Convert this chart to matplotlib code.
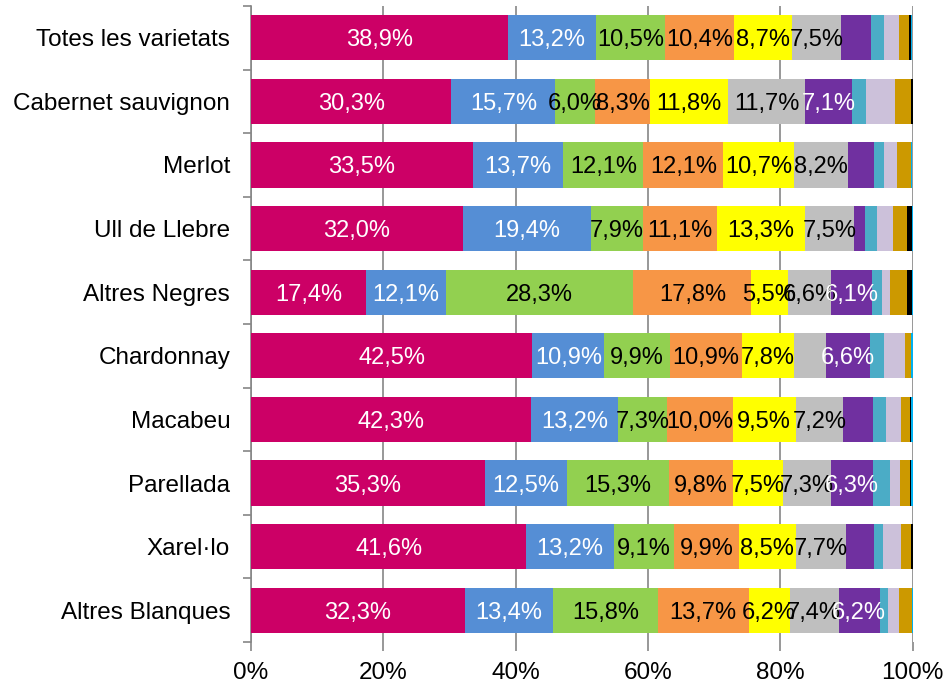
import numpy as np
import matplotlib
matplotlib.use('Agg')
import matplotlib.pyplot as plt

plt.rcParams['font.family'] = ['Liberation Sans', 'DejaVu Sans']

# Categories, top to bottom
categories = ["Totes les varietats", "Cabernet sauvignon", "Merlot", "Ull de Llebre",
              "Altres Negres", "Chardonnay", "Macabeu", "Parellada", "Xarel·lo",
              "Altres Blanques"]

# Share (%) of each series per category
magenta = [38.9, 30.3, 33.5, 32.0, 17.4, 42.5, 42.3, 35.3, 41.6, 32.3]
blue = [13.2, 15.7, 13.7, 19.4, 12.1, 10.9, 13.2, 12.5, 13.2, 13.4]
green = [10.5, 6.0, 12.1, 7.9, 28.3, 9.9, 7.3, 15.3, 9.1, 15.8]
orange = [10.4, 8.3, 12.1, 11.1, 17.8, 10.9, 10.0, 9.8, 9.9, 13.7]
yellow = [8.7, 11.8, 10.7, 13.3, 5.5, 7.8, 9.5, 7.5, 8.5, 6.2]
grey = [7.5, 11.7, 8.2, 7.5, 6.6, 4.9, 7.2, 7.3, 7.7, 7.4]
purple = [4.5, 7.1, 3.9, 1.6, 6.1, 6.6, 4.5, 6.3, 4.1, 6.2]
teal = [1.9, 2.0, 1.4, 1.8, 1.6, 2.1, 1.9, 2.6, 1.4, 1.2]
lavender = [2.3, 4.4, 2.1, 2.4, 1.2, 3.3, 2.3, 1.5, 2.8, 1.7]
gold = [1.6, 2.5, 2.0, 2.1, 2.6, 0.9, 1.4, 1.5, 1.5, 2.0]
black = [0.2, 0.2, 0.0, 0.8, 0.7, 0.0, 0.2, 0.2, 0.2, 0.0]
cyan = [0.2, 0.0, 0.2, 0.3, 0.2, 0.2, 0.2, 0.2, 0.2, 0.2]

series = [magenta, blue, green, orange, yellow, grey, purple, teal, lavender, gold, black, cyan]
colours = ['#CC0066', '#558ED5', '#92D050', '#F79646', '#FFFF00', '#BFBFBF',
           '#7030A0', '#4BACC6', '#CCC1DA', '#CC9900', '#000000', '#00B0F0']
label_colours = ['white', 'white', 'black', 'black', 'black', 'black',
                 'white', 'black', 'black', 'black', 'white', 'black']

fig = plt.figure(figsize=(9.49, 6.86), dpi=100)
ax = fig.add_axes([0.2645, 0.0641, 0.6972, 0.9272])

y = np.arange(len(categories))
left = np.zeros(len(categories))
for vals, col, lcol in zip(series, colours, label_colours):
    vals = np.array(vals)
    ax.barh(y, vals, left=left, height=0.71, color=col, edgecolor='none', zorder=3)
    # only segments of 5% or more carry a label
    for yi, (l, v) in enumerate(zip(left, vals)):
        if v >= 5:
            ax.text(l + v / 2, yi, f'{v:.1f}%'.replace('.', ','), ha='center',
                    va='center_baseline', color=lcol, fontsize=17, zorder=4)
    left += vals

ax.set_xlim(0, 100)
ax.set_ylim(len(categories) - 0.5, -0.5)
ax.set_xticks(range(0, 101, 20))
ax.set_xticklabels([f'{t}%' for t in range(0, 101, 20)])
ax.set_yticks(y)
ax.set_yticklabels(categories)
ax.set_yticks(np.arange(-0.5, len(categories)), minor=True)

ax.grid(axis='x', color='#868686', linewidth=1.2, zorder=0)
for s in ['top', 'right', 'bottom']:
    ax.spines[s].set_visible(False)
ax.spines['left'].set_color('#868686')
ax.spines['left'].set_linewidth(1.2)

ax.tick_params(axis='y', which='major', length=0, pad=15, labelsize=17.5)
ax.tick_params(axis='y', which='minor', length=6, color='#868686', width=1.2)
ax.tick_params(axis='x', length=6.5, color='#868686', width=1.2, pad=8, labelsize=17.5)

plt.savefig('out.png', dpi=100)
